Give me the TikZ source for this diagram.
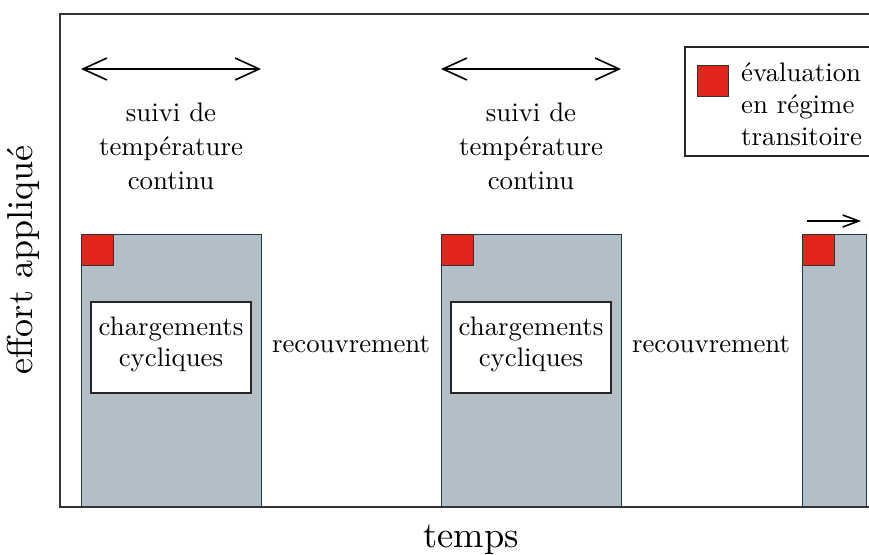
\documentclass[tikz,border=0pt]{standalone}
\usepackage{fontspec}
\setmainfont{lmroman10-regular.otf}[Ligatures=TeX]
\usetikzlibrary{arrows.meta}
\definecolor{blockfill}{HTML}{B3BEC7}
\definecolor{blockline}{HTML}{1E3550}
\definecolor{evalred}{HTML}{E2251C}
\definecolor{frameline}{HTML}{333333}
\tikzset{
  block/.style={draw=blockline, fill=blockfill, line width=1pt},
  evalsq/.style={draw=black!80, fill=evalred, line width=1pt},
  whitebox/.style={draw=black!85, fill=white, line width=1.1pt, minimum width=160pt, minimum height=91pt, inner sep=0pt, align=center},
  lbl/.style={align=center, font=\fontsize{26.8}{31}\selectfont, inner sep=0pt},
  bigarrow/.style={line width=1.6pt, {Straight Barb[length=24pt,width=22pt]}-{Straight Barb[length=24pt,width=22pt]}},
  axis/.style={draw=frameline, line width=1.1pt},
}
\begin{document}
\begin{tikzpicture}[x=1pt,y=-1pt]
\useasboundingbox (0,0) rectangle (869,554);
\clip (0,0) rectangle (869,554);
% frame
\coordinate (tl) at (60,14);
\coordinate (bl) at (60,507);
\coordinate (tr) at (875,14);
\coordinate (br) at (875,507);
% blocks
\draw[block] (81,234) rectangle (261,507);
\draw[block] (441,234) rectangle (621,507);
\draw[block] (802,234) rectangle (866,507);
\draw[axis] (tr) -- (tl) -- (bl) -- (br);
% red squares
\draw[evalsq] (81,234) rectangle (113,265);
\draw[evalsq] (441,234) rectangle (473,265);
\draw[evalsq] (802,234) rectangle (834,265);
% white boxes
\node[whitebox, minimum width=160pt, minimum height=91pt] (c1) at (171,347.5) {};
\node[whitebox, minimum width=160pt, minimum height=91pt] (c2) at (531,347.5) {};
\node[lbl] (c1t) at (171,344) {chargements\\cycliques};
\node[lbl] (c2t) at (531,344) {chargements\\cycliques};
% recouvrement
\node[lbl] (r1) at (351,344) {recouvrement};
\node[lbl] (r2) at (711,344) {recouvrement};
% arrows
\coordinate (a1l) at (81,69); \coordinate (a1r) at (261,69);
\coordinate (a2l) at (441,69); \coordinate (a2r) at (621,69);
\coordinate (a3l) at (807,221); \coordinate (a3r) at (861,221);
\draw[bigarrow] (a1l) -- (a1r);
\draw[bigarrow] (a2l) -- (a2r);
\draw[line width=1.6pt, -{Straight Barb[length=16pt,width=12pt]}] (a3l) -- (a3r);
% suivi labels
\node[lbl, font=\fontsize{26.8}{34}\selectfont] (s1) at (171,146) {suivi de\\temp\'erature\\continu};
\node[lbl, font=\fontsize{26.8}{34}\selectfont] (s2) at (531,146) {suivi de\\temp\'erature\\continu};
% legend
\draw[draw=black!85, line width=1.1pt, fill=white] (685,47) rectangle (885,156);
\draw[evalsq] (697,65) rectangle (728,96);
\node[lbl, align=left, anchor=west, font=\fontsize{26.8}{32}\selectfont] (leg) at (741,104) {\'evaluation\\en r\'egime\\transitoire};
% axis labels
\node[inner sep=0pt, font=\fontsize{36.5}{40}\selectfont] (tx) at (471,540) {temps};
\node[inner sep=0pt, font=\fontsize{36}{40}\selectfont, rotate=90] (ty) at (23,260) {effort appliqu\'e};
\end{tikzpicture}
\end{document}
